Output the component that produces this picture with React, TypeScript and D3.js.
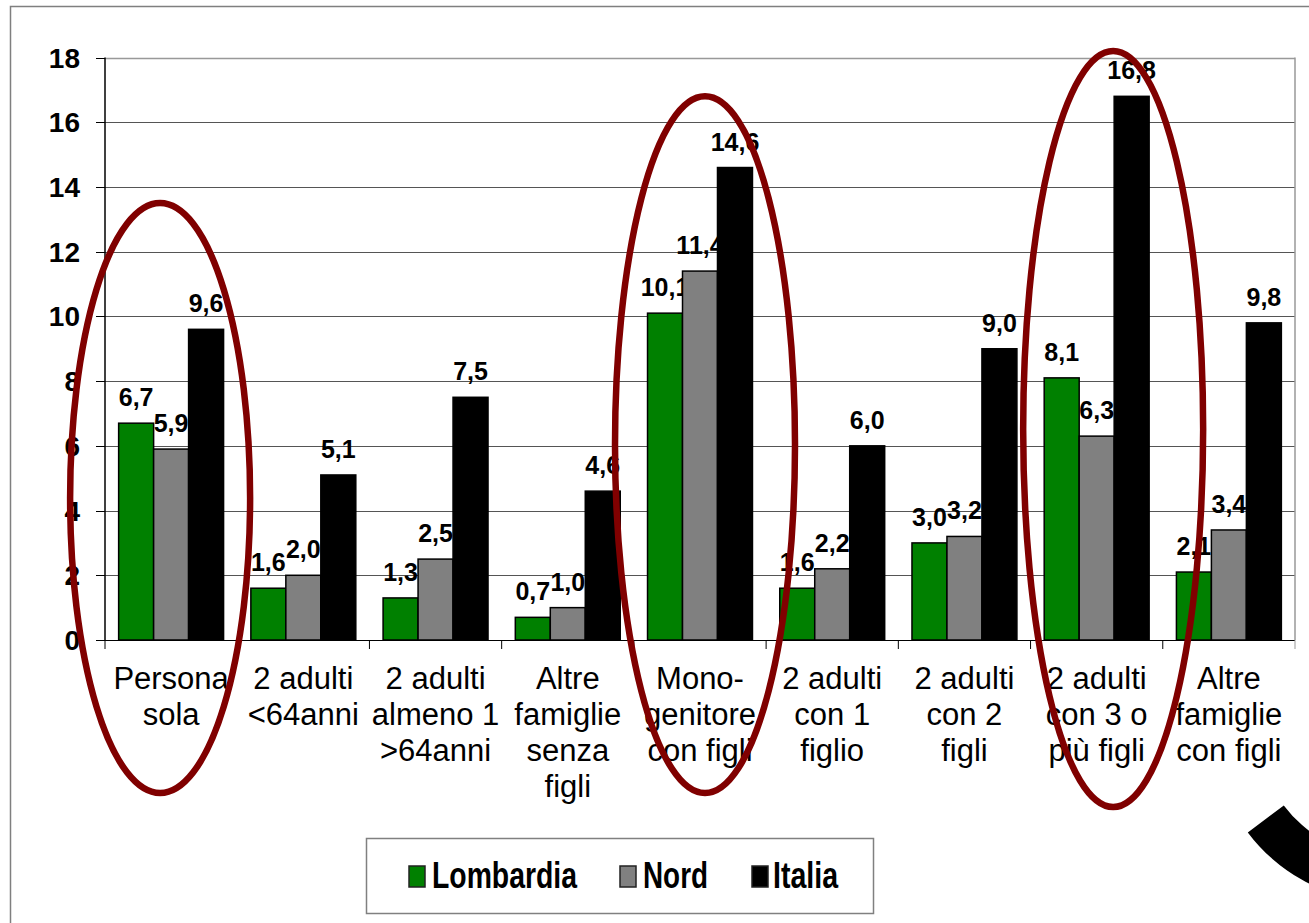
import React from "react";
import * as d3 from "d3";

const categories: string[][] = [
  ["Persona", "sola"],
  ["2 adulti", "<64anni"],
  ["2 adulti", "almeno 1", ">64anni"],
  ["Altre", "famiglie", "senza", "figli"],
  ["Mono-", "genitore", "con figli"],
  ["2 adulti", "con 1", "figlio"],
  ["2 adulti", "con 2", "figli"],
  ["2 adulti", "con 3 o", "più figli"],
  ["Altre", "famiglie", "con figli"],
];
const seriesNames = ["Lombardia", "Nord", "Italia"];
const lombardia = [6.7, 1.6, 1.3, 0.7, 10.1, 1.6, 3.0, 8.1, 2.1];
const nord = [5.9, 2.0, 2.5, 1.0, 11.4, 2.2, 3.2, 6.3, 3.4];
const italia = [9.6, 5.1, 7.5, 4.6, 14.6, 6.0, 9.0, 16.8, 9.8];
const yTicks = [0, 2, 4, 6, 8, 10, 12, 14, 16, 18];
const seriesColors = ["#008000", "#808080", "#000000"];
// highlighted categories (indices) for ellipses, and the value their tops reach
const highlighted = [0, 4, 7];
const highlightTops = [13.5, 16.8, 18.2];

const W = 1309;
const H = 923;
const plot = { left: 105, right: 1295, top: 57.5, bottom: 640 };
const FONT = "Arial, 'Liberation Sans', Helvetica, sans-serif";

export default function App() {
  const values = [lombardia, nord, italia];
  const catIdx = categories.map((_, i) => i);
  const x0 = d3.scaleBand<number>().domain(catIdx).range([plot.left, plot.right]).paddingInner(0).paddingOuter(0);
  const x1 = d3
    .scaleBand<number>()
    .domain([0, 1, 2])
    .range([0, x0.bandwidth()])
    .paddingInner(0)
    .paddingOuter(0.39);
  const y = d3.scaleLinear().domain([0, 18]).range([plot.bottom, plot.top]);
  const fmt = (v: number) => d3.format(".1f")(v).replace(".", ",");

  const arcPath = d3.arc()({
    innerRadius: 129,
    outerRadius: 174,
    startAngle: 2.4,
    endAngle: 4.069,
  } as any) as string;

  const ellipseShift = [-11, 5, 16.5];
  const ellipseBottoms = [793, 793, 807];

  const legendItems = [
    { sq: 409, tx: 432, len: 145 },
    { sq: 620, tx: 643, len: 65 },
    { sq: 752, tx: 773, len: 65 },
  ];

  return (
    <svg
      width={W}
      height={H}
      style={{ position: "fixed", left: 0, top: 0, display: "block", background: "#fff" }}
      fontFamily={FONT}
    >
      {/* outer frame */}
      <rect x={10.5} y={6.5} width={W + 20} height={H + 20} fill="none" stroke="#7f7f7f" strokeWidth={1.5} />

      {/* gridlines */}
      {yTicks.map((t) => (
        <line
          key={"g" + t}
          x1={plot.left}
          x2={plot.right}
          y1={Math.round(y(t)) + 0.5}
          y2={Math.round(y(t)) + 0.5}
          stroke={t === 18 ? "#999" : "#555"}
          strokeWidth={t === 18 ? 1.5 : 1}
        />
      ))}
      {/* plot right border */}
      <line x1={plot.right} x2={plot.right} y1={plot.top} y2={plot.bottom} stroke="#999" strokeWidth={1.5} />

      {/* y ticks and labels */}
      {yTicks.map((t) => (
        <g key={"t" + t}>
          <line x1={96} x2={plot.left} y1={Math.round(y(t)) + 0.5} y2={Math.round(y(t)) + 0.5} stroke="#000" />
          <text x={80} y={y(t) + 10} textAnchor="end" fontSize={28} fontWeight="bold" fill="#000">
            {t}
          </text>
        </g>
      ))}

      {/* bars and labels, series by series */}
      {values.map((vals, s) => (
        <g key={"s" + s}>
          {vals.map((v, i) => (
            <rect
              key={"b" + i}
              x={(x0(i) as number) + (x1(s) as number)}
              y={y(v)}
              width={x1.bandwidth()}
              height={y(0) - y(v)}
              fill={seriesColors[s]}
              stroke="#000"
              strokeWidth={1.5}
            />
          ))}
          {vals.map((v, i) => (
            <text
              key={"l" + i}
              x={(x0(i) as number) + (x1(s) as number) + x1.bandwidth() / 2}
              y={y(v) - 17}
              textAnchor="middle"
              fontSize={25}
              fontWeight="bold"
              fill="#000"
            >
              {fmt(v)}
            </text>
          ))}
        </g>
      ))}

      {/* x axis */}
      <line x1={plot.left} x2={plot.right} y1={plot.bottom + 0.5} y2={plot.bottom + 0.5} stroke="#000" strokeWidth={1.2} />
      <line x1={plot.left} x2={plot.left} y1={plot.top} y2={plot.bottom} stroke="#000" strokeWidth={1.5} />
      {catIdx.concat([categories.length]).map((i) => {
        const xx = i < categories.length ? (x0(i) as number) : plot.right;
        return <line key={"ct" + i} x1={xx} x2={xx} y1={plot.bottom} y2={plot.bottom + 9} stroke={i === categories.length ? "#999" : "#000"} />;
      })}
      {categories.map((lines, i) => (
        <text
          key={"c" + i}
          x={(x0(i) as number) + x0.bandwidth() / 2}
          y={689}
          textAnchor="middle"
          fontSize={31}
          fill="#000"
        >
          {lines.map((ln, k) => (
            <tspan key={k} x={(x0(i) as number) + x0.bandwidth() / 2} y={689 + k * 36}>
              {ln}
            </tspan>
          ))}
        </text>
      ))}

      {/* highlight ellipses */}
      {highlighted.map((i, k) => {
        const cx = (x0(i) as number) + x0.bandwidth() / 2 + ellipseShift[k];
        const cyTop = y(highlightTops[k]);
        const cyBot = ellipseBottoms[k];
        return (
          <ellipse
            key={"e" + i}
            cx={cx}
            cy={(cyTop + cyBot) / 2}
            rx={90}
            ry={(cyBot - cyTop) / 2}
            fill="none"
            stroke="#800000"
            strokeWidth={6.5}
          />
        );
      })}

      {/* legend */}
      <rect x={366.5} y={838.5} width={507} height={75} fill="#fff" stroke="#808080" strokeWidth={1.5} />
      {seriesNames.map((name, s) => (
        <g key={"lg" + s}>
          <rect
            x={legendItems[s].sq}
            y={866}
            width={16}
            height={21}
            fill={seriesColors[s]}
            stroke="#222"
            strokeWidth={1.5}
          />
          <text
            x={legendItems[s].tx}
            y={888}
            fontSize={36}
            fontWeight="bold"
            fill="#000"
            textLength={legendItems[s].len}
            lengthAdjust="spacingAndGlyphs"
          >
            {name}
          </text>
        </g>
      ))}

      {/* partial black arc at bottom right */}
      <path d={arcPath} transform="translate(1387,728)" fill="#000" />
    </svg>
  );
}
